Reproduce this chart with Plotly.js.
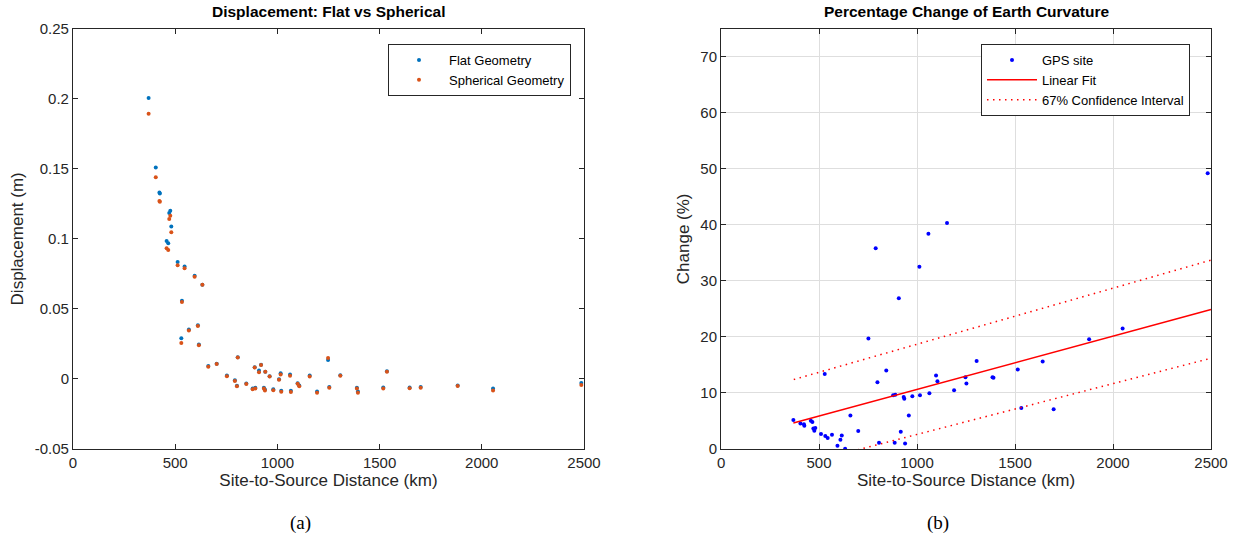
<!DOCTYPE html>
<html>
<head>
<meta charset="utf-8">
<script src="https://cdn.plot.ly/plotly-3.0.1.min.js"></script>
<style>html,body{margin:0;padding:0;background:#fff;}#chart{width:1237px;height:540px;}</style>
</head>
<body>
<div id="chart"></div>
<script>
// ---- Panel (a): displacement, flat vs spherical ----
const distA = [370, 405, 423, 425, 458, 466, 471, 476, 481, 512, 530, 533, 546, 567, 595, 611, 616, 633, 662, 703,
  753, 792, 802, 806, 848, 879, 889, 892, 910, 920, 934, 939, 941, 962, 980, 1008, 1016, 1019, 1062, 1066,
  1099, 1107, 1158, 1194, 1248, 1254, 1308, 1389, 1394, 1518, 1536, 1647, 1701, 1882, 2055, 2487];
const flatDisp = [0.2004, 0.1509, 0.1330, 0.1323, 0.0985, 0.0969, 0.1184, 0.1201, 0.1087, 0.0834, 0.0290, 0.0558, 0.0802, 0.0352, 0.0736, 0.0383, 0.0245, 0.0672, 0.0092, 0.0109,
  0.0024, -0.0010, -0.0048, 0.0155, -0.0032, -0.0068, 0.0083, -0.0062, 0.0060, 0.0102, -0.0062, -0.0076, 0.0052, 0.0019, -0.0074, -0.0003, 0.0041, -0.0084, 0.0031, -0.0085,
  -0.0030, -0.0047, 0.0024, -0.0090, 0.0136, -0.0057, 0.0026, -0.0062, -0.0090, -0.0061, 0.0055, -0.0061, -0.0058, -0.0047, -0.0068, -0.0029];
const sphDisp = [0.1893, 0.1440, 0.1270, 0.1264, 0.0933, 0.0921, 0.1142, 0.1165, 0.1047, 0.0812, 0.0256, 0.0549, 0.0790, 0.0345, 0.0729, 0.0378, 0.0240, 0.0672, 0.0087, 0.0106,
  0.0020, -0.0015, -0.0053, 0.0153, -0.0036, -0.0074, 0.0082, -0.0068, 0.0047, 0.0099, -0.0068, -0.0083, 0.0051, 0.0018, -0.0081, -0.0005, 0.0031, -0.0092, 0.0022, -0.0094,
  -0.0034, -0.0053, 0.0017, -0.0099, 0.0150, -0.0063, 0.0022, -0.0068, -0.0098, -0.0068, 0.0051, -0.0066, -0.0062, -0.0051, -0.0082, -0.0044];

// ---- Panel (b): percentage change ----
const distB = [369, 405, 423, 425, 458, 466, 471, 476, 481, 510, 529, 532, 544, 566, 594, 609, 616, 633, 660, 700,
  752, 789, 798, 806, 843, 878, 886, 889, 907, 917, 932, 935, 939, 958, 976, 1012, 1015, 1058, 1063, 1097,
  1104, 1153, 1189, 1247, 1252, 1304, 1385, 1390, 1514, 1532, 1641, 1697, 1878, 2049, 2483];
const changePct = [5.18, 4.57, 4.4, 4.16, 5.05, 4.82, 3.68, 3.27, 3.75, 2.68, 13.4, 2.32, 1.96, 2.55, 0.59, 1.66, 2.43, 0.05, 6.0, 3.2,
  19.7, 35.8, 11.9, 1.12, 14.0, 9.57, 1.12, 9.7, 26.9, 3.09, 9.29, 8.98, 1.0, 6.0, 9.4, 32.5, 9.57, 38.4, 9.93, 13.1,
  12.1, 40.3, 10.5, 12.8, 11.7, 15.7, 12.8, 12.7, 14.2, 7.3, 15.6, 7.1, 19.6, 21.5, 49.2];
const fitDist = [369, 2500];
const fitPct = [4.64, 24.9];
const ciDist = [371, 2500];
const ciUpper = [12.4, 33.7];
const ciLower = [-3.1, 16.2];

// ---- Tick labels ----
const xTickVals = [0, 500, 1000, 1500, 2000, 2500];
const xTickText = ['0', '500', '1000', '1500', '2000', '2500'];
const yTickValsA = [-0.05, 0, 0.05, 0.1, 0.15, 0.2, 0.25];
const yTickTextA = ['-0.05', '0', '0.05', '0.1', '0.15', '0.2', '0.25'];
const yTickValsB = [0, 10, 20, 30, 40, 50, 60, 70];
const yTickTextB = ['0', '10', '20', '30', '40', '50', '60', '70'];

const FONT = 'Liberation Sans, Arial, Helvetica, sans-serif';
const AX = '#262626';

const traces = [
  {x: distA, y: flatDisp, type: 'scatter', mode: 'markers', name: 'Flat Geometry',
   marker: {color: '#0072BD', size: 4}, xaxis: 'x', yaxis: 'y', legend: 'legend'},
  {x: distA, y: sphDisp, type: 'scatter', mode: 'markers', name: 'Spherical Geometry',
   marker: {color: '#D95319', size: 4}, xaxis: 'x', yaxis: 'y', legend: 'legend'},
  {x: distB, y: changePct, type: 'scatter', mode: 'markers', name: 'GPS site',
   marker: {color: '#0000FF', size: 4}, xaxis: 'x2', yaxis: 'y2', legend: 'legend2'},
  {x: fitDist, y: fitPct, type: 'scatter', mode: 'lines', name: 'Linear Fit',
   line: {color: '#FF0000', width: 1.5}, xaxis: 'x2', yaxis: 'y2', legend: 'legend2'},
  {x: ciDist, y: ciUpper, type: 'scatter', mode: 'lines', name: '67% Confidence Interval',
   line: {color: '#FF0000', width: 1.5, dash: '1.5px,4.5px'}, xaxis: 'x2', yaxis: 'y2', legend: 'legend2'},
  {x: ciDist, y: ciLower, type: 'scatter', mode: 'lines', name: '67% Confidence Interval', showlegend: false,
   line: {color: '#FF0000', width: 1.5, dash: '1.5px,4.5px'}, xaxis: 'x2', yaxis: 'y2', legend: 'legend2'}
];

function axisBase(extra) {
  return Object.assign({
    showline: true, mirror: 'ticks', linecolor: AX, linewidth: 1,
    ticks: 'inside', ticklen: 5, tickwidth: 1, tickcolor: AX,
    zeroline: false, showgrid: false, automargin: false,
    tickfont: {family: FONT, size: 15, color: AX}
  }, extra);
}

const titleFont = {family: FONT, size: 17, color: AX};

const layout = {
  width: 1237, height: 540,
  margin: {l: 0, r: 0, t: 0, b: 0},
  paper_bgcolor: '#fff', plot_bgcolor: '#fff',
  showlegend: true,
  xaxis: axisBase({domain: [0.059, 0.4721], range: [0, 2500], tickvals: xTickVals, ticktext: xTickText,
    anchor: 'y', title: {text: 'Site-to-Source Distance (km)', font: titleFont, standoff: 2}}),
  yaxis: axisBase({domain: [0.1685, 0.947], range: [-0.05, 0.25], tickvals: yTickValsA, ticktext: yTickTextA,
    anchor: 'x', title: {text: 'Displacement (m)', font: titleFont, standoff: 6}}),
  xaxis2: axisBase({domain: [0.5829, 0.979], range: [0, 2500], tickvals: xTickVals, ticktext: xTickText,
    anchor: 'y2', showgrid: true, gridcolor: '#dedede', gridwidth: 1,
    title: {text: 'Site-to-Source Distance (km)', font: titleFont, standoff: 2}}),
  yaxis2: axisBase({domain: [0.1685, 0.947], range: [0, 75], tickvals: yTickValsB, ticktext: yTickTextB,
    anchor: 'x2', showgrid: true, gridcolor: '#dedede', gridwidth: 1,
    title: {text: 'Change (%)', font: titleFont, standoff: 6}}),
  legend: {x: 0.4616, y: 0.9185, xanchor: 'right', yanchor: 'top', bgcolor: '#fff', itemwidth: 50,
    bordercolor: AX, borderwidth: 1, font: {family: FONT, size: 13, color: '#000'}, tracegroupgap: 0},
  legend2: {x: 0.962, y: 0.9185, xanchor: 'right', yanchor: 'top', bgcolor: '#fff', itemwidth: 50,
    bordercolor: AX, borderwidth: 1, font: {family: FONT, size: 13, color: '#000'}, tracegroupgap: 0},
  annotations: [
    {text: '<b>Displacement: Flat vs Spherical</b>', xref: 'paper', yref: 'paper', x: 0.2656, y: 0.978,
     xanchor: 'center', yanchor: 'middle', showarrow: false, font: {family: FONT, size: 15.5, color: '#000'}},
    {text: '<b>Percentage Change of Earth Curvature</b>', xref: 'paper', yref: 'paper', x: 0.781, y: 0.978,
     xanchor: 'center', yanchor: 'middle', showarrow: false, font: {family: FONT, size: 15.5, color: '#000'}},
    {text: '(a)', xref: 'paper', yref: 'paper', x: 300 / 1237, y: (540 - 523) / 540,
     xanchor: 'center', yanchor: 'middle', showarrow: false, font: {family: 'Liberation Serif, Times New Roman, serif', size: 19, color: '#000'}},
    {text: '(b)', xref: 'paper', yref: 'paper', x: 938 / 1237, y: (540 - 523) / 540,
     xanchor: 'center', yanchor: 'middle', showarrow: false, font: {family: 'Liberation Serif, Times New Roman, serif', size: 19, color: '#000'}}
  ]
};

Plotly.newPlot('chart', traces, layout, {displayModeBar: false, staticPlot: true});
</script>
</body>
</html>
